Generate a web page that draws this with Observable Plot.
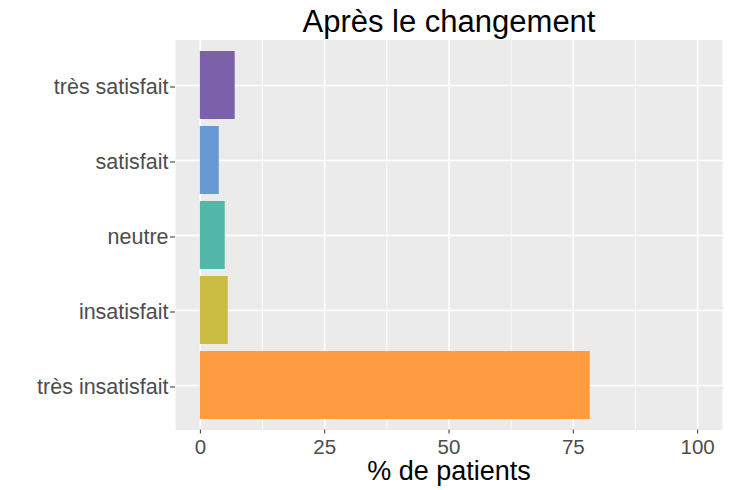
<!DOCTYPE html>
<html>
<head>
<meta charset="utf-8">
<script src="https://cdn.jsdelivr.net/npm/d3@7"></script>
<script src="https://cdn.jsdelivr.net/npm/@observablehq/plot@0.6"></script>
<style>
  body { margin: 0; background: white; }
  svg { font-family: "Liberation Sans", Arial, sans-serif; }
</style>
</head>
<body>
<div id="chart"></div>
<script>
const categories = ["très satisfait", "satisfait", "neutre", "insatisfait", "très insatisfait"];
const values = [7.0, 3.8, 5.0, 5.6, 78.4];
const colors = ["#7A61A9", "#6699D3", "#53B8AA", "#CBBC44", "#FF9C42"];
const xTicks = [0, 25, 50, 75, 100];
const xMinor = [12.5, 37.5, 62.5, 87.5];
const title = "Après le changement";
const xLabel = "% de patients";

const data = categories.map((c, i) => ({cat: c, value: values[i]}));

const chart = Plot.plot({
  width: 730,
  height: 490,
  marginLeft: 175,
  marginRight: 8,
  marginTop: 39.5,
  marginBottom: 60.5,
  style: {fontFamily: '"Liberation Sans", Arial, sans-serif', background: "white"},
  x: {domain: [-5, 105]},
  y: {domain: categories, paddingInner: 0.1, paddingOuter: 0.15},
  color: {domain: categories, range: colors},
  marks: [
    Plot.frame({fill: "#EBEBEB", stroke: null}),
    Plot.ruleX(xMinor, {stroke: "white", strokeWidth: 0.8}),
    Plot.ruleX(xTicks, {stroke: "white", strokeWidth: 1.6}),
    Plot.gridY({stroke: "white", strokeOpacity: 1, strokeWidth: 1.6}),
    Plot.barX(data, {x: "value", y: "cat", fill: "cat"}),
    Plot.axisX(xTicks, {tickSize: 4, tickPadding: 5, fontSize: 20.5, fill: "#4D4D4D", stroke: "#333333", label: null}),
    Plot.axisY({tickSize: 5, tickPadding: 2, fontSize: 21.5, fill: "#4D4D4D", stroke: "#333333", label: null, dy: 1.5}),
    Plot.text([title], {frameAnchor: "top", lineAnchor: "bottom", dy: -8, fontSize: 31, fill: "black"}),
    Plot.text([xLabel], {frameAnchor: "bottom", lineAnchor: "bottom", dy: 49.5, fontSize: 27, fill: "black"})
  ]
});
document.getElementById("chart").appendChild(chart);
</script>
</body>
</html>
